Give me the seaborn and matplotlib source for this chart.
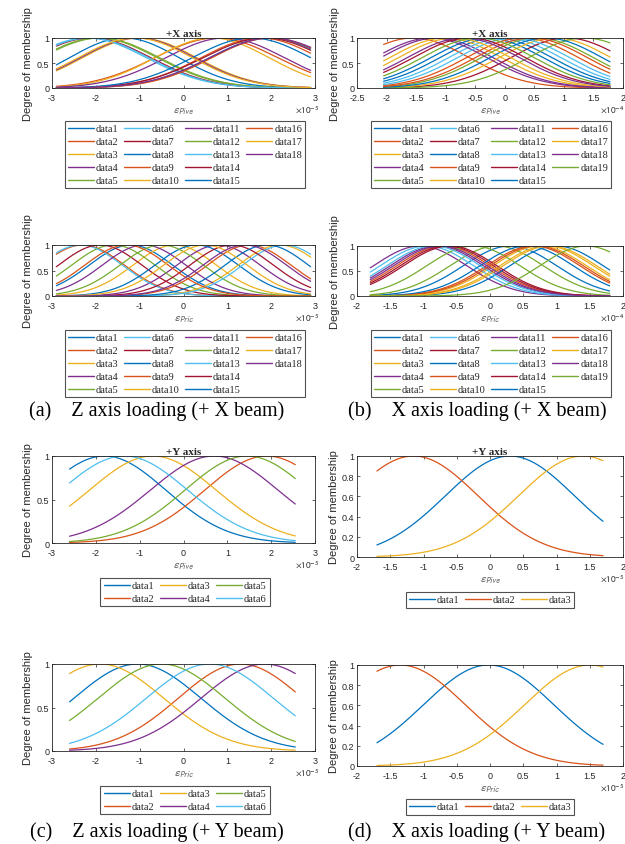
import numpy as np
import pandas as pd
import matplotlib
matplotlib.use("Agg")
import matplotlib.pyplot as plt
import seaborn as sns
from matplotlib.lines import Line2D
from matplotlib.ticker import FuncFormatter, MultipleLocator

# ---------------------------------------------------------------------------
# Gaussian membership functions: centre and width of every fuzzy set
# (x values in units of the panel's exponent, e.g. 1e-5 strain)
# ---------------------------------------------------------------------------

# (a) Z axis loading (+X beam), +X axis, eps_Pive
a1_centers = [-1.35, 0.75, -1.0, -1.05, -1.95, -2.2, -2.1, 1.95, 1.75,
              0.65, 0.95, -1.9, -2.15, 1.85, 1.55, 2.0, -1.1, 2.0]
a1_sigmas = [1.25, 1.4, 1.3, 1.3, 1.35, 1.35, 1.35, 1.35, 1.35,
             1.3, 1.35, 1.35, 1.35, 1.4, 1.35, 1.35, 1.3, 1.4]
a1_range = (-2.9, 2.9)

# (a) Z axis loading (+X beam), eps_Pric
a2_centers = [-1.2, -2.3, -0.2, 0.8, -1.6, -2.35, -1.9, 0.3, 1.5,
              2.2, -0.9, -0.5, 2.3, 1.1, 1.9, -1.3, 0.5, 1.4]
a2_sigmas = [0.95] * 18
a2_range = (-2.9, 2.9)

# (b) X axis loading (+X beam), +X axis, eps_Pive
b1_centers = [-0.15, -1.55, -1.0, -1.15, 0.55, 0.0, 1.05, -0.3, 0.3, 0.85,
              -1.25, 1.35, 0.15, -0.6, 0.7, 0.45, -0.85, -0.7, -0.45]
b1_sigmas = [0.95] * 19
b1_range = (-2.05, 1.78)

# (b) X axis loading (+X beam), eps_Pric
b2_centers = [0.3, -0.7, 0.75, -1.05, 0.1, -0.95, -0.65, 1.0, 0.65, 0.85,
              -0.8, -0.25, -0.85, -0.6, 0.55, 0.7, 0.9, -0.75, 1.45]
b2_sigmas = [0.7] * 19
b2_range = (-1.8, 1.8)

# (c) Z axis loading (+Y beam), +Y axis, eps_Pive
c1_centers = [-1.8, 1.9, -0.7, 0.7, 1.45, -1.35]
c1_sigmas = [1.4, 1.42, 1.45, 1.46, 1.42, 1.45]
c1_range = (-2.6, 2.55)

# (c) Z axis loading (+Y beam), eps_Pric
c2_centers = [-1.05, 1.3, -1.9, 1.85, -0.5, 0.6]
c2_sigmas = [1.45, 1.42, 1.45, 1.45, 1.45, 1.45]
c2_range = (-2.6, 2.55)

# (d) X axis loading (+Y beam), +Y axis, eps_Pive
d1_centers = [0.3, -1.15, 1.4]
d1_sigmas = [0.97, 0.97, 0.97]
d1_range = (-1.7, 1.7)

# (d) X axis loading (+Y beam), eps_Pric
d2_centers = [-0.02, -1.35, 1.5]
d2_sigmas = [0.98, 0.98, 0.98]
d2_range = (-1.7, 1.7)

captions = ["(a)    Z axis loading (+ X beam)", "(b)    X axis loading (+ X beam)",
            "(c)    Z axis loading (+ Y beam)", "(d)    X axis loading (+ Y beam)"]

matlab_colors = ["#0072BD", "#D95319", "#EDB120", "#7E2F8E",
                 "#77AC30", "#4DBEEE", "#A2142F"]

W, H = 625, 845

sns.set_theme(style="white")
plt.rcParams["font.family"] = ["Liberation Sans", "DejaVu Sans"]
plt.rcParams["axes.unicode_minus"] = False
plt.rcParams["mathtext.fontset"] = "stixsans"

fig = plt.figure(figsize=(W / 100, H / 100), dpi=100)
fig.patch.set_facecolor("white")


def px_axes(x0, y0, x1, y1):
    return fig.add_axes([x0 / W, 1 - y1 / H, (x1 - x0) / W, (y1 - y0) / H])


def gauss_frame(centers, sigmas, rng):
    x = np.linspace(rng[0], rng[1], 240)
    rows = []
    for i, (c, s) in enumerate(zip(centers, sigmas)):
        mu = np.exp(-((x - c) ** 2) / (2 * s ** 2))
        rows.append(pd.DataFrame({"x": x, "mu": mu, "series": f"data{i + 1}"}))
    return pd.concat(rows, ignore_index=True)


def panel(box, centers, sigmas, rng, xlim, xstep, yticks, expo, sub,
          title=None, ylab_off=19, exp_dx=4, leg_center=None, leg_top=None,
          ncol=4):
    ax = px_axes(*box)
    n = len(centers)
    pal = [matlab_colors[i % 7] for i in range(n)]
    df = gauss_frame(centers, sigmas, rng)
    sns.lineplot(data=df, x="x", y="mu", hue="series",
                 hue_order=[f"data{i + 1}" for i in range(n)],
                 palette=pal, ax=ax, legend=False, lw=0.9,
                 estimator=None, sort=False)
    ax.set_xlim(*xlim)
    ax.set_ylim(0, 1)
    ax.xaxis.set_major_locator(MultipleLocator(xstep))
    ax.set_yticks(yticks)
    fmt = FuncFormatter(lambda v, p: f"{v:g}")
    ax.xaxis.set_major_formatter(fmt)
    ax.yaxis.set_major_formatter(fmt)
    ax.tick_params(direction="in", length=2.5, width=0.5, labelsize=6.5,
                   colors="#262626", pad=2, top=True, right=True,
                   bottom=True, left=True)
    ax.tick_params(axis="x", pad=3.5)
    for sp in ax.spines.values():
        sp.set_color("#262626")
        sp.set_linewidth(0.6)
    ax.set_xlabel("")
    ax.set_ylabel("Degree of membership", fontsize=8, color="#262626")
    bw = box[2] - box[0]
    ax.yaxis.set_label_coords(-ylab_off / bw, 0.5)
    ax.annotate(r"$\varepsilon_{" + sub + "}$", xy=(0.5, 0),
                xycoords="axes fraction", xytext=(0, -23 * 0.72),
                textcoords="offset points", ha="center", va="center",
                fontsize=8, color="#606060")
    ax.annotate(r"$\times10^{" + str(expo) + "}$", xy=(1, 0),
                xycoords="axes fraction", xytext=(exp_dx * 0.72, -21 * 0.72),
                textcoords="offset points", ha="right", va="center",
                fontsize=6.5, color="#262626")
    if title:
        ax.set_title(title, fontsize=8, fontweight="bold",
                     family="Liberation Serif", pad=1.5)
    handles = [Line2D([], [], color=pal[i], lw=1.0) for i in range(n)]
    labels = [f"data{i + 1}" for i in range(n)]
    if ncol == 4 and n == 18:
        handles.append(Line2D([], [], alpha=0))
        labels.append("")
    leg = fig.legend(handles, labels, loc="upper center",
                     bbox_to_anchor=(leg_center / W, 1 - leg_top / H),
                     ncol=ncol, frameon=True, fancybox=False,
                     borderaxespad=0,
                     prop={"family": "Liberation Serif", "size": 7.5},
                     handlelength=2.5, handletextpad=0.2, columnspacing=0.5,
                     labelspacing=0.35, borderpad=0.3)
    leg.get_frame().set_edgecolor("#262626")
    leg.get_frame().set_linewidth(0.8)
    return ax


panel((52, 39, 315, 89), a1_centers, a1_sigmas, a1_range, (-3, 3), 1,
      [0, 0.5, 1], -5, "Pive", title="+X axis", leg_center=185, leg_top=122)
panel((52, 246, 315, 297), a2_centers, a2_sigmas, a2_range, (-3, 3), 1,
      [0, 0.5, 1], -5, "Pric", leg_center=185, leg_top=331)
panel((357, 39, 623, 89), b1_centers, b1_sigmas, b1_range, (-2.5, 2), 0.5,
      [0, 0.5, 1], -4, "Pive", title="+X axis", ylab_off=17, exp_dx=1,
      leg_center=491, leg_top=122)
panel((357, 247, 623, 297), b2_centers, b2_sigmas, b2_range, (-2, 2), 0.5,
      [0, 0.5, 1], -4, "Pric", ylab_off=17, exp_dx=1,
      leg_center=491, leg_top=331)
panel((52, 457, 315, 544), c1_centers, c1_sigmas, c1_range, (-3, 3), 1,
      [0, 0.5, 1], -5, "Pive", title="+Y axis", leg_center=185, leg_top=579,
      ncol=3)
panel((52, 665, 315, 752), c2_centers, c2_sigmas, c2_range, (-3, 3), 1,
      [0, 0.5, 1], -5, "Pric", leg_center=185, leg_top=787, ncol=3)
panel((357, 457, 623, 558), d1_centers, d1_sigmas, d1_range, (-2, 2), 0.5,
      [0, 0.2, 0.4, 0.6, 0.8, 1], -5, "Pive", title="+Y axis", ylab_off=18,
      exp_dx=1, leg_center=490, leg_top=593, ncol=3)
panel((357, 666, 623, 767), d2_centers, d2_sigmas, d2_range, (-2, 2), 0.5,
      [0, 0.2, 0.4, 0.6, 0.8, 1], -5, "Pric", ylab_off=18, exp_dx=1,
      leg_center=490, leg_top=800, ncol=3)

for txt, (cx, cy) in zip(captions, [(157, 411), (477, 411), (157, 832), (477, 832)]):
    fig.text(cx / W, 1 - cy / H, txt, ha="center", va="center",
             fontsize=14.5, family="Liberation Serif", color="black")

fig.savefig("out.png", dpi=100, facecolor="white")
